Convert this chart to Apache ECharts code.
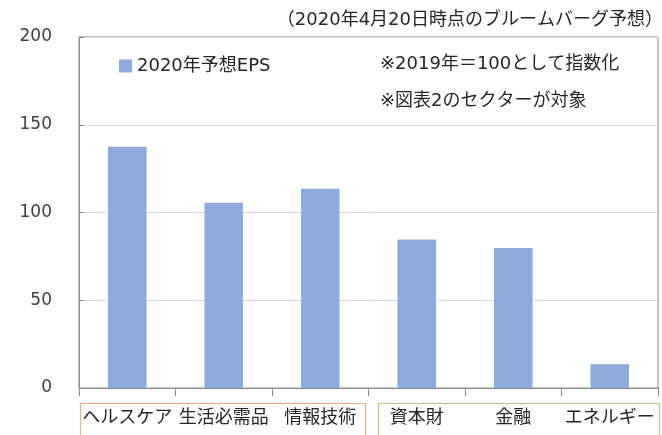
<!DOCTYPE html>
<html>
<head>
<meta charset="utf-8">
<script src="https://cdn.jsdelivr.net/npm/echarts@6/dist/echarts.min.js"></script>
<style>
html,body{margin:0;padding:0;background:#fff;}
#chart{width:662px;height:435px;}
</style>
</head>
<body>
<div id="chart"></div>
<script>
var categories = ['ヘルスケア', '生活必需品', '情報技術', '資本財', '金融', 'エネルギー'];
var eps2020 = [137.5, 105.5, 113.5, 84.6, 79.8, 13.5];
var yTicks = [0, 50, 100, 150, 200];
var seriesName = '2020年予想EPS';
var titleText = '（2020年4月20日時点のブルームバーグ予想）';
var note1 = '※2019年＝100として指数化';
var note2 = '※図表2のセクターが対象';

var FONT = '"DejaVu Sans", "Noto Sans CJK JP", sans-serif';
var chart = echarts.init(document.getElementById('chart'));
chart.setOption({
  backgroundColor: '#ffffff',
  animation: false,
  textStyle: { fontFamily: FONT },
  grid: { left: 79, right: 4, top: 37, bottom: 47, show: true, borderColor: '#8c8c8c', borderWidth: 1, backgroundColor: 'transparent' },
  title: {
    text: titleText,
    right: -6, top: 6,
    textStyle: { fontFamily: FONT, fontSize: 18, fontWeight: 'normal', color: '#262626' }
  },
  legend: {
    data: [seriesName],
    left: 114, top: 52,
    icon: 'rect', itemWidth: 13, itemHeight: 13, itemGap: 6,
    textStyle: { fontFamily: FONT, fontSize: 18, color: '#262626' }
  },
  xAxis: {
    type: 'category',
    data: categories,
    axisLine: { show: true, lineStyle: { color: '#8c8c8c', width: 1 } },
    axisTick: { show: true, length: 8, lineStyle: { color: '#8c8c8c' } },
    axisLabel: { fontFamily: FONT, fontSize: 18, color: '#262626', margin: 21, interval: 0 }
  },
  yAxis: {
    type: 'value',
    min: yTicks[0], max: yTicks[yTicks.length - 1], interval: 50,
    axisLine: { show: true, lineStyle: { color: '#8c8c8c', width: 1 } },
    axisTick: { show: true, length: 5, inside: true, lineStyle: { color: '#8c8c8c' } },
    splitLine: { show: true, lineStyle: { color: '#d9d9d9', width: 1 } },
    axisLabel: { fontFamily: FONT, fontSize: 17, color: '#404040', margin: 27 }
  },
  series: [{
    name: seriesName,
    type: 'bar',
    data: eps2020,
    barWidth: '40%',
    itemStyle: { color: '#8faadc' }
  }],
  graphic: [
    { type: 'text', left: 380, top: 55, style: { text: note1, font: '18px ' + FONT, fill: '#262626' } },
    { type: 'text', left: 380, top: 92, style: { text: note2, font: '18px ' + FONT, fill: '#262626' } },
    { type: 'polyline', z: 100, shape: { points: [[80.5, 440], [80.5, 403.5], [365.5, 403.5], [365.5, 440]] }, style: { fill: null, stroke: '#f4b183', lineWidth: 1.2 } },
    { type: 'polyline', z: 100, shape: { points: [[378.5, 440], [378.5, 403.5], [659.5, 403.5], [659.5, 440]] }, style: { fill: null, stroke: '#a9d18e', lineWidth: 1.2 } }
  ]
});
</script>
</body>
</html>
